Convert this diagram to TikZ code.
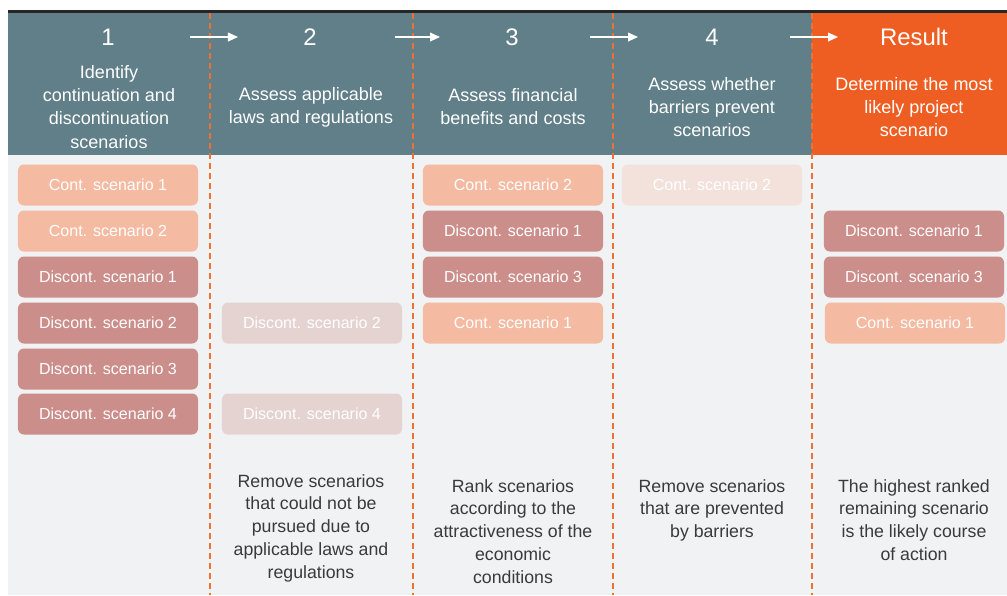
\documentclass[tikz,border=0pt]{standalone}
\usepackage{fontspec}
\setmainfont{Liberation Sans}
\usetikzlibrary{arrows.meta}
\definecolor{headbg}{HTML}{607F89}
\definecolor{resultbg}{HTML}{EE5E22}
\definecolor{bodybg}{HTML}{F1F2F4}
\definecolor{sepc}{HTML}{F07032}
\definecolor{contc}{HTML}{F5BBA2}
\definecolor{discc}{HTML}{CC8E8B}
\definecolor{contfade}{HTML}{F3E2DB}
\definecolor{discfade}{HTML}{E5D3D2}
\definecolor{notec}{HTML}{3A3A3A}
\tikzset{box/.style={rounded corners=0.15cm, minimum width=4.5cm, minimum height=1.025cm, inner sep=0pt, text=white, font=\fontsize{11.4}{13}\selectfont}}
\tikzset{cont/.style={box, fill=contc}}
\tikzset{disc/.style={box, fill=discc}}
\tikzset{contgone/.style={box, fill=contfade}}
\tikzset{discgone/.style={box, fill=discfade}}
\tikzset{num/.style={text=white, inner sep=0pt, font=\fontsize{17}{20}\selectfont}}
\tikzset{desc/.style={text=white, align=center, inner sep=0pt, font=\fontsize{12.8}{16.4}\selectfont}}
\tikzset{note/.style={text=notec, align=center, inner sep=0pt, anchor=north, font=\fontsize{12.6}{16.2}\selectfont}}
\tikzset{flow/.style={white, line width=1pt, -{Triangle[length=0.25cm, width=0.22cm]}}}
\tikzset{sep/.style={sepc, line width=0.9pt, dash pattern=on 0.15cm off 0.1cm}}

\begin{document}
\begin{tikzpicture}[x=0.025cm, y=-0.025cm]
  \useasboundingbox (0,0) rectangle (1007,595);
  \fill[white] (0,0) rectangle (1007,595);
  \fill[bodybg] (8,155) rectangle (1007,595);
  \fill[headbg] (8,13) rectangle (812,155);
  \fill[resultbg] (812,13) rectangle (1007,155);
  \draw[black!85, line width=2pt] (8,11.5) -- (1007,11.5);

  % column borders
  \foreach \x in {210,413,613,812}
    \draw[sep] (\x,13) -- (\x,595);

  % step numbers
  \node[num] (n1) at (108,37) {1};
  \node[num] (n2) at (310,37) {2};
  \node[num] (n3) at (512,37) {3};
  \node[num] (n4) at (712,37) {4};
  \node[num] (n5) at (914,37) {Result};

  \foreach \i/\s/\e in {1/190/238,2/395/440,3/590/638,4/790/838} {
    \coordinate (s\i) at (\s,37);
    \coordinate (e\i) at (\e,37);
    \draw[flow] (s\i) -- (e\i);
  }

  \node[desc] (d1) at (109,107) {Identify\\continuation and\\discontinuation\\scenarios};
  \node[desc] (d2) at (311,107) {Assess applicable\\laws and regulations};
  \node[desc] (d3) at (513,107) {Assess financial\\benefits and costs};
  \node[desc] (d4) at (712,107) {Assess whether\\barriers prevent\\scenarios};
  \node[desc] (d5) at (914,107) {Determine the most\\likely project\\scenario};

  % step 1
  \node[cont] (c1a) at (108,185) {Cont. scenario 1};
  \node[cont] (c2a) at (108,231) {Cont. scenario 2};
  \node[disc] (x1a) at (108,277) {Discont. scenario 1};
  \node[disc] (x2a) at (108,323) {Discont. scenario 2};
  \node[disc] (x3a) at (108,369) {Discont. scenario 3};
  \node[disc] (x4a) at (108,414) {Discont. scenario 4};

  % step 2
  \node[discgone] (x2b) at (312,323) {Discont. scenario 2};
  \node[discgone] (x4b) at (312,414) {Discont. scenario 4};

  % step 3
  \node[cont] (c2c) at (513,185) {Cont. scenario 2};
  \node[disc] (x1c) at (513,231) {Discont. scenario 1};
  \node[disc] (x3c) at (513,277) {Discont. scenario 3};
  \node[cont] (c1c) at (513,323) {Cont. scenario 1};

  % step 4
  \node[contgone] (c2d) at (712,185) {Cont. scenario 2};

  % result
  \node[disc] (x1e) at (914,231) {Discont. scenario 1};
  \node[disc] (x3e) at (914,277) {Discont. scenario 3};
  \node[cont] (c1e) at (915,323) {Cont. scenario 1};

  \node[note] (r2) at (311,474) {Remove scenarios\\that could not be\\pursued due to\\applicable laws and\\regulations};
  \node[note] (r3) at (513,479) {Rank scenarios\\according to the\\attractiveness of the\\economic\\conditions};
  \node[note] (r4) at (712,479) {Remove scenarios\\that are prevented\\by barriers};
  \node[note] (r5) at (914,479) {The highest ranked\\remaining scenario\\is the likely course\\of action};
\end{tikzpicture}
\end{document}
